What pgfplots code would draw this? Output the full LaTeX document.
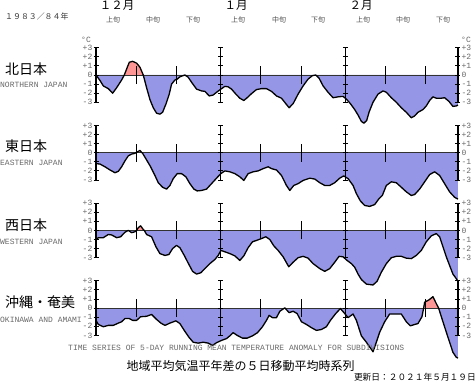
\documentclass[border=0pt]{standalone}
\usepackage{pgfplots}
\pgfplotsset{compat=1.18}
\usepackage{fontspec}
\setmainfont{Liberation Serif}
\setmonofont{Liberation Mono}
\newfontfamily\cjk{Noto Sans CJK JP}
\definecolor{fillblue}{RGB}{150,150,230}
\definecolor{fillred}{RGB}{255,150,150}
\definecolor{lblgray}{RGB}{105,105,105}
\definecolor{zerogray}{RGB}{50,50,50}

\pgfplotsset{panel/.style={hide axis, x=4.022pt, y=9.1pt, xmin=0, xmax=90, ymin=-3, ymax=3,
  clip=false, anchor=south west}}
\tikzset{lbl/.style={inner sep=0pt, text=lblgray, font=\ttfamily\fontsize{8}{8}\selectfont}}

\newcommand{\tl}[2]{%
  \node[lbl,anchor=east] at ([xshift=-3.5pt]axis cs:0,#1) {#2};
  \node[lbl,anchor=west] at ([xshift=3.5pt]axis cs:90,#1) {#2};}
\newcommand{\frameparts}{%
  \pgfplotsinvokeforeach{10,20,41,51,72,82}{\draw[line width=1pt,black] (axis cs:##1,-1) -- (axis cs:##1,1);}
  \pgfplotsinvokeforeach{0,31,62,90}{%
    \draw[line width=1.3pt,black] (axis cs:##1,-3) -- (axis cs:##1,3);
    \draw[line width=0.9pt,black] \foreach \yy in {-3,...,3}{([xshift=-2.5pt]axis cs:##1,\yy) -- ([xshift=2.5pt]axis cs:##1,\yy)};}
  \tl{3}{+3}\tl{2}{+2}\tl{1}{+1}\tl{0}{0}\tl{-1}{-1}\tl{-2}{-2}\tl{-3}{-3}}

\begin{document}
\begin{tikzpicture}[x=1pt,y=1pt]
\useasboundingbox (0,0) rectangle (476,382);

% ---------- Panel 1: Northern Japan ----------
\begin{axis}[panel, at={(96pt,279.7pt)}]
\addplot[fill=fillblue, draw=none] coordinates {(0,0) (0.99,-0.6) (1.82,-1.2) (3.06,-1.5) (4.14,-2.0) (5.13,-1.4) (6.37,-0.55) (7.04,0) (7.78,0.85) (8.28,1.4) (9.11,1.5) (10.10,1.3) (10.93,0.85) (11.75,0) (12.58,-1.4) (13.41,-2.7) (14.24,-3.6) (15.07,-4.2) (15.89,-4.3) (16.56,-4.1) (17.38,-3.2) (18.21,-2.1) (18.79,-1.0) (19.62,-0.55) (20.20,-0.45) (20.86,-0.2) (22.10,0) (22.93,-0.25) (23.76,-0.8) (25.00,-1.55) (26.24,-1.75) (27.07,-1.8) (28.15,-2.3) (29.14,-2.2) (29.97,-1.9) (31.04,-1.55) (32.04,-1.25) (32.86,-1.3) (33.69,-1.55) (34.77,-2.1) (35.76,-2.55) (36.75,-2.8) (37.58,-2.5) (38.66,-2.05) (39.90,-1.6) (41.14,-1.5) (42.38,-1.5) (43.63,-1.8) (44.87,-2.3) (46.11,-2.55) (47.19,-3.15) (48.01,-3.6) (49.01,-3.15) (50.25,-2.1) (51.49,-1.2) (52.73,-0.45) (53.81,-0.07) (54.64,0) (55.46,-0.35) (56.46,-1.2) (57.70,-1.9) (58.94,-2.5) (60.18,-2.4) (61.42,-2.35) (62.25,-2.65) (63.25,-3.15) (64.32,-3.8) (65.15,-4.4) (65.98,-5.1) (66.6,-5.3) (67.3,-5.0) (67.88,-4.1) (68.87,-3.0) (70.12,-2.1) (71.36,-1.75) (72.19,-1.9) (73.43,-2.5) (74.67,-3.0) (75.91,-3.6) (77.15,-4.1) (78.39,-4.7) (79.22,-4.5) (80.05,-4.1) (81.29,-3.8) (82.12,-3.4) (82.95,-2.8) (83.77,-2.4) (84.60,-2.55) (85.84,-2.55) (86.67,-2.5) (87.75,-2.9) (88.74,-3.45) (89.57,-3.4) (90,-3.3) (90,0)};
\addplot[fill=fillred, draw=none] coordinates {(7.04,0) (7.78,0.85) (8.28,1.4) (9.11,1.5) (10.10,1.3) (10.93,0.85) (11.75,0)};
\addplot[zerogray, line width=0.9pt] coordinates {(0,0) (90,0)};
\addplot[black, line width=1.3pt, line join=round] coordinates {(0,0) (0.99,-0.6) (1.82,-1.2) (3.06,-1.5) (4.14,-2.0) (5.13,-1.4) (6.37,-0.55) (7.04,0) (7.78,0.85) (8.28,1.4) (9.11,1.5) (10.10,1.3) (10.93,0.85) (11.75,0) (12.58,-1.4) (13.41,-2.7) (14.24,-3.6) (15.07,-4.2) (15.89,-4.3) (16.56,-4.1) (17.38,-3.2) (18.21,-2.1) (18.79,-1.0) (19.62,-0.55) (20.20,-0.45) (20.86,-0.2) (22.10,0) (22.93,-0.25) (23.76,-0.8) (25.00,-1.55) (26.24,-1.75) (27.07,-1.8) (28.15,-2.3) (29.14,-2.2) (29.97,-1.9) (31.04,-1.55) (32.04,-1.25) (32.86,-1.3) (33.69,-1.55) (34.77,-2.1) (35.76,-2.55) (36.75,-2.8) (37.58,-2.5) (38.66,-2.05) (39.90,-1.6) (41.14,-1.5) (42.38,-1.5) (43.63,-1.8) (44.87,-2.3) (46.11,-2.55) (47.19,-3.15) (48.01,-3.6) (49.01,-3.15) (50.25,-2.1) (51.49,-1.2) (52.73,-0.45) (53.81,-0.07) (54.64,0) (55.46,-0.35) (56.46,-1.2) (57.70,-1.9) (58.94,-2.5) (60.18,-2.4) (61.42,-2.35) (62.25,-2.65) (63.25,-3.15) (64.32,-3.8) (65.15,-4.4) (65.98,-5.1) (66.6,-5.3) (67.3,-5.0) (67.88,-4.1) (68.87,-3.0) (70.12,-2.1) (71.36,-1.75) (72.19,-1.9) (73.43,-2.5) (74.67,-3.0) (75.91,-3.6) (77.15,-4.1) (78.39,-4.7) (79.22,-4.5) (80.05,-4.1) (81.29,-3.8) (82.12,-3.4) (82.95,-2.8) (83.77,-2.4) (84.60,-2.55) (85.84,-2.55) (86.67,-2.5) (87.75,-2.9) (88.74,-3.45) (89.57,-3.4) (90,-3.3)};
\frameparts
\end{axis}

% ---------- Panel 2: Eastern Japan ----------
\begin{axis}[panel, at={(96pt,202.0pt)}]
\addplot[fill=fillblue, draw=none] coordinates {(0,0) (0,-1.2) (0.99,-1.25) (2.24,-1.55) (3.48,-1.9) (4.72,-2.2) (5.55,-2.05) (6.37,-1.55) (7.20,-0.9) (8.03,-0.35) (8.86,-0.15) (9.69,-0.07) (9.9,0) (10.35,0.1) (10.93,0.25) (11.4,0) (11.59,-0.07) (12.58,-0.8) (13.58,-1.55) (14.65,-2.5) (15.48,-3.3) (16.56,-3.8) (17.55,-4.0) (18.38,-3.6) (19.21,-2.85) (20.20,-2.3) (21.27,-2.3) (22.35,-2.65) (23.34,-3.4) (24.34,-4.0) (25.17,-4.2) (26.24,-4.15) (27.48,-4.0) (28.73,-3.4) (29.97,-2.8) (31.04,-2.3) (32.04,-2.0) (33.28,-2.1) (34.52,-2.3) (35.76,-2.65) (36.75,-3.05) (37.83,-2.3) (39.07,-2.1) (40.31,-2.0) (41.56,-1.75) (42.80,-1.55) (43.63,-1.75) (44.87,-1.9) (46.11,-2.5) (47.35,-3.6) (48.18,-4.15) (49.17,-3.6) (50.25,-3.4) (51.49,-3.05) (53.15,-2.8) (54.39,-2.9) (55.63,-3.3) (56.87,-3.6) (58.11,-3.6) (59.35,-3.3) (60.60,-2.8) (61.59,-2.55) (62.67,-2.85) (63.91,-3.6) (64.74,-4.5) (65.73,-5.3) (66.80,-5.8) (68.05,-5.9) (69.29,-5.7) (70.28,-5.1) (71.19,-4.7) (72.19,-3.6) (73.43,-3.2) (74.67,-3.3) (75.91,-3.8) (77.15,-4.3) (78.39,-4.7) (79.22,-4.6) (80.46,-4.0) (81.71,-3.2) (82.95,-2.4) (84.19,-2.1) (85.43,-2.5) (86.67,-3.4) (87.91,-4.3) (89.16,-4.9) (90,-5.1) (90,0)};
\addplot[fill=fillred, draw=none] coordinates {(9.9,0) (10.35,0.1) (10.93,0.25) (11.4,0)};
\addplot[zerogray, line width=0.9pt] coordinates {(0,0) (90,0)};
\addplot[black, line width=1.3pt, line join=round] coordinates {(0,-1.2) (0.99,-1.25) (2.24,-1.55) (3.48,-1.9) (4.72,-2.2) (5.55,-2.05) (6.37,-1.55) (7.20,-0.9) (8.03,-0.35) (8.86,-0.15) (9.69,-0.07) (9.9,0) (10.35,0.1) (10.93,0.25) (11.4,0) (11.59,-0.07) (12.58,-0.8) (13.58,-1.55) (14.65,-2.5) (15.48,-3.3) (16.56,-3.8) (17.55,-4.0) (18.38,-3.6) (19.21,-2.85) (20.20,-2.3) (21.27,-2.3) (22.35,-2.65) (23.34,-3.4) (24.34,-4.0) (25.17,-4.2) (26.24,-4.15) (27.48,-4.0) (28.73,-3.4) (29.97,-2.8) (31.04,-2.3) (32.04,-2.0) (33.28,-2.1) (34.52,-2.3) (35.76,-2.65) (36.75,-3.05) (37.83,-2.3) (39.07,-2.1) (40.31,-2.0) (41.56,-1.75) (42.80,-1.55) (43.63,-1.75) (44.87,-1.9) (46.11,-2.5) (47.35,-3.6) (48.18,-4.15) (49.17,-3.6) (50.25,-3.4) (51.49,-3.05) (53.15,-2.8) (54.39,-2.9) (55.63,-3.3) (56.87,-3.6) (58.11,-3.6) (59.35,-3.3) (60.60,-2.8) (61.59,-2.55) (62.67,-2.85) (63.91,-3.6) (64.74,-4.5) (65.73,-5.3) (66.80,-5.8) (68.05,-5.9) (69.29,-5.7) (70.28,-5.1) (71.19,-4.7) (72.19,-3.6) (73.43,-3.2) (74.67,-3.3) (75.91,-3.8) (77.15,-4.3) (78.39,-4.7) (79.22,-4.6) (80.46,-4.0) (81.71,-3.2) (82.95,-2.4) (84.19,-2.1) (85.43,-2.5) (86.67,-3.4) (87.91,-4.3) (89.16,-4.9) (90,-5.1)};
\frameparts
\end{axis}

% ---------- Panel 3: Western Japan ----------
\begin{axis}[panel, at={(96pt,124.3pt)}]
\addplot[fill=fillblue, draw=none] coordinates {(0,0) (0,-1.0) (0.58,-0.8) (1.82,-0.8) (3.06,-0.45) (3.89,-0.5) (5.13,-0.8) (6.13,-0.7) (7.20,-0.2) (8.03,0) (8.86,-0.25) (9.69,-0.15) (10.10,0) (10.51,0.3) (11.09,0.5) (11.75,0.1) (12.0,0) (12.58,-0.45) (13.82,-0.7) (14.90,-1.8) (15.89,-2.55) (17.14,-2.75) (18.13,-2.65) (19.04,-2.0) (20.03,-1.65) (20.86,-1.9) (21.94,-2.75) (22.93,-3.6) (24.01,-4.5) (25.00,-4.8) (26.08,-4.65) (27.07,-4.2) (28.31,-3.65) (29.55,-3.2) (30.38,-2.75) (31.04,-2.2) (32.04,-2.35) (33.28,-2.55) (34.52,-2.8) (35.76,-3.3) (36.75,-2.8) (37.83,-1.9) (38.91,-1.25) (39.90,-1.1) (41.14,-0.9) (42.22,-0.7) (43.21,-1.0) (44.21,-1.7) (45.28,-2.2) (46.52,-2.9) (47.93,-4.0) (49.01,-3.5) (50.25,-3.0) (51.49,-2.85) (52.73,-3.05) (53.97,-3.65) (55.63,-4.2) (56.87,-4.5) (58.11,-4.2) (59.35,-3.5) (60.43,-2.85) (61.42,-2.9) (62.42,-3.3) (63.49,-3.65) (64.32,-4.05) (65.15,-4.8) (65.98,-5.4) (67.22,-5.9) (68.87,-6.0) (69.87,-5.6) (70.94,-4.6) (72.19,-3.65) (73.43,-3.0) (74.67,-2.85) (75.91,-2.85) (77.15,-3.05) (78.39,-3.1) (79.64,-2.75) (80.88,-2.2) (82.12,-1.25) (83.36,-0.6) (84.60,-0.35) (85.43,-0.7) (86.26,-1.8) (87.09,-2.9) (87.91,-3.85) (88.74,-4.8) (89.57,-5.3) (90,-5.6) (90,0)};
\addplot[fill=fillred, draw=none] coordinates {(10.10,0) (10.51,0.3) (11.09,0.5) (11.75,0.1) (12.0,0)};
\addplot[zerogray, line width=0.9pt] coordinates {(0,0) (90,0)};
\addplot[black, line width=1.3pt, line join=round] coordinates {(0,-1.0) (0.58,-0.8) (1.82,-0.8) (3.06,-0.45) (3.89,-0.5) (5.13,-0.8) (6.13,-0.7) (7.20,-0.2) (8.03,0) (8.86,-0.25) (9.69,-0.15) (10.10,0) (10.51,0.3) (11.09,0.5) (11.75,0.1) (12.0,0) (12.58,-0.45) (13.82,-0.7) (14.90,-1.8) (15.89,-2.55) (17.14,-2.75) (18.13,-2.65) (19.04,-2.0) (20.03,-1.65) (20.86,-1.9) (21.94,-2.75) (22.93,-3.6) (24.01,-4.5) (25.00,-4.8) (26.08,-4.65) (27.07,-4.2) (28.31,-3.65) (29.55,-3.2) (30.38,-2.75) (31.04,-2.2) (32.04,-2.35) (33.28,-2.55) (34.52,-2.8) (35.76,-3.3) (36.75,-2.8) (37.83,-1.9) (38.91,-1.25) (39.90,-1.1) (41.14,-0.9) (42.22,-0.7) (43.21,-1.0) (44.21,-1.7) (45.28,-2.2) (46.52,-2.9) (47.93,-4.0) (49.01,-3.5) (50.25,-3.0) (51.49,-2.85) (52.73,-3.05) (53.97,-3.65) (55.63,-4.2) (56.87,-4.5) (58.11,-4.2) (59.35,-3.5) (60.43,-2.85) (61.42,-2.9) (62.42,-3.3) (63.49,-3.65) (64.32,-4.05) (65.15,-4.8) (65.98,-5.4) (67.22,-5.9) (68.87,-6.0) (69.87,-5.6) (70.94,-4.6) (72.19,-3.65) (73.43,-3.0) (74.67,-2.85) (75.91,-2.85) (77.15,-3.05) (78.39,-3.1) (79.64,-2.75) (80.88,-2.2) (82.12,-1.25) (83.36,-0.6) (84.60,-0.35) (85.43,-0.7) (86.26,-1.8) (87.09,-2.9) (87.91,-3.85) (88.74,-4.8) (89.57,-5.3) (90,-5.6)};
\frameparts
\end{axis}

% ---------- Panel 4: Okinawa and Amami ----------
\begin{axis}[panel, at={(96pt,46.6pt)}]
\addplot[fill=fillblue, draw=none] coordinates {(0,0) (0,-1.35) (0.58,-1.8) (1.82,-2.05) (3.06,-1.9) (4.30,-1.9) (5.55,-1.65) (6.37,-1.5) (7.20,-1.15) (8.28,-1.15) (9.11,-1.35) (10.10,-1.35) (11.09,-0.95) (12.58,-0.9) (13.82,-0.7) (15.07,-1.25) (16.14,-1.65) (17.14,-1.9) (18.38,-1.65) (19.87,-1.4) (20.86,-1.7) (21.94,-2.45) (23.10,-3.2) (24.17,-3.75) (25.41,-3.85) (26.66,-3.75) (27.90,-3.85) (28.97,-4.1) (29.97,-3.8) (31.21,-3.55) (32.45,-3.35) (33.28,-3.05) (34.11,-2.7) (35.10,-3.0) (36.42,-3.3) (37.58,-3.3) (38.91,-3.05) (40.15,-2.7) (41.39,-2.05) (42.38,-1.35) (43.05,-0.8) (43.87,-1.05) (44.87,-1.05) (45.70,-0.35) (46.94,0.03) (48.01,-0.5) (49.01,-0.35) (50.00,-0.6) (51.08,-1.5) (52.32,-1.8) (53.56,-2.15) (54.80,-2.45) (56.04,-2.35) (57.28,-2.05) (58.28,-1.35) (59.60,-0.6) (60.76,-0.05) (61.84,-0.6) (62.67,-1.05) (63.91,-0.65) (64.74,-1.35) (65.98,-3.05) (67.22,-3.75) (68.87,-4.8) (69.70,-3.75) (70.53,-2.65) (71.77,-1.5) (73.01,-0.65) (74.67,-0.65) (75.91,-0.65) (77.15,-1.5) (78.15,-1.95) (79.22,-1.8) (80.05,-1.7) (81.04,-0.95) (81.46,0) (81.71,0.65) (82.78,0.9) (83.77,1.25) (84.60,0.5) (85.18,0) (86.26,-1.5) (87.50,-3.2) (88.74,-4.85) (89.57,-5.4) (90,-5.5) (90,0)};
\addplot[fill=fillred, draw=none] coordinates {(81.46,0) (81.71,0.65) (82.78,0.9) (83.77,1.25) (84.60,0.5) (85.18,0)};
\addplot[zerogray, line width=0.9pt] coordinates {(0,0) (90,0)};
\addplot[black, line width=1.3pt, line join=round] coordinates {(0,-1.35) (0.58,-1.8) (1.82,-2.05) (3.06,-1.9) (4.30,-1.9) (5.55,-1.65) (6.37,-1.5) (7.20,-1.15) (8.28,-1.15) (9.11,-1.35) (10.10,-1.35) (11.09,-0.95) (12.58,-0.9) (13.82,-0.7) (15.07,-1.25) (16.14,-1.65) (17.14,-1.9) (18.38,-1.65) (19.87,-1.4) (20.86,-1.7) (21.94,-2.45) (23.10,-3.2) (24.17,-3.75) (25.41,-3.85) (26.66,-3.75) (27.90,-3.85) (28.97,-4.1) (29.97,-3.8) (31.21,-3.55) (32.45,-3.35) (33.28,-3.05) (34.11,-2.7) (35.10,-3.0) (36.42,-3.3) (37.58,-3.3) (38.91,-3.05) (40.15,-2.7) (41.39,-2.05) (42.38,-1.35) (43.05,-0.8) (43.87,-1.05) (44.87,-1.05) (45.70,-0.35) (46.94,0.03) (48.01,-0.5) (49.01,-0.35) (50.00,-0.6) (51.08,-1.5) (52.32,-1.8) (53.56,-2.15) (54.80,-2.45) (56.04,-2.35) (57.28,-2.05) (58.28,-1.35) (59.60,-0.6) (60.76,-0.05) (61.84,-0.6) (62.67,-1.05) (63.91,-0.65) (64.74,-1.35) (65.98,-3.05) (67.22,-3.75) (68.87,-4.8) (69.70,-3.75) (70.53,-2.65) (71.77,-1.5) (73.01,-0.65) (74.67,-0.65) (75.91,-0.65) (77.15,-1.5) (78.15,-1.95) (79.22,-1.8) (80.05,-1.7) (81.04,-0.95) (81.46,0) (81.71,0.65) (82.78,0.9) (83.77,1.25) (84.60,0.5) (85.18,0) (86.26,-1.5) (87.50,-3.2) (88.74,-4.85) (89.57,-5.4) (90,-5.5)};
\frameparts
\end{axis}

% ---------- Texts ----------
\node[anchor=west, inner sep=0pt, font=\cjk\fontsize{7.9}{8}\selectfont, text=black!80] at (5,365) {１９８３／８４年};
\node[inner sep=0pt, font=\cjk\fontsize{11.5}{12}\selectfont] at (117,377) {１２月};
\node[inner sep=0pt, font=\cjk\fontsize{11.5}{12}\selectfont] at (236,377) {１月};
\node[inner sep=0pt, font=\cjk\fontsize{11.5}{12}\selectfont] at (361,377) {２月};
\foreach \xx/\tt in {113/上旬,153/中旬,193/下旬,238/上旬,279/中旬,318/下旬,363/上旬,403/中旬,443/下旬}
  \node[inner sep=0pt, font=\cjk\fontsize{7}{7}\selectfont, text=black!70] at (\xx,362) {\tt};
\node[lbl] at (86,342) {\textdegree C};
\node[lbl] at (466,342) {\textdegree C};

\node[anchor=west, inner sep=0pt, font=\cjk\fontsize{14}{14}\selectfont] at (5,313) {北日本};
\node[lbl, anchor=west] at (0,297) {NORTHERN JAPAN};
\node[anchor=west, inner sep=0pt, font=\cjk\fontsize{14}{14}\selectfont] at (5,235.5) {東日本};
\node[lbl, anchor=west] at (0,219.5) {EASTERN JAPAN};
\node[anchor=west, inner sep=0pt, font=\cjk\fontsize{14}{14}\selectfont] at (5,156.5) {西日本};
\node[lbl, anchor=west] at (0,140) {WESTERN JAPAN};
\node[anchor=west, inner sep=0pt, font=\cjk\fontsize{14}{14}\selectfont] at (5,79.5) {沖縄・奄美};
\node[lbl, anchor=west] at (0,62.5) {OKINAWA AND AMAMI};

\node[lbl, anchor=west] at (68,34.3) {TIME SERIES OF 5-DAY RUNNING MEAN TEMPERATURE ANOMALY FOR SUBDIVISIONS};
\node[inner sep=0pt, font=\cjk\fontsize{12}{12}\selectfont] at (240.5,16) {地域平均気温平年差の５日移動平均時系列};
\node[anchor=east, inner sep=0pt, font=\cjk\fontsize{8.7}{9}\selectfont] at (476,4.6) {更新日：２０２１年５月１９日};
\end{tikzpicture}
\end{document}
